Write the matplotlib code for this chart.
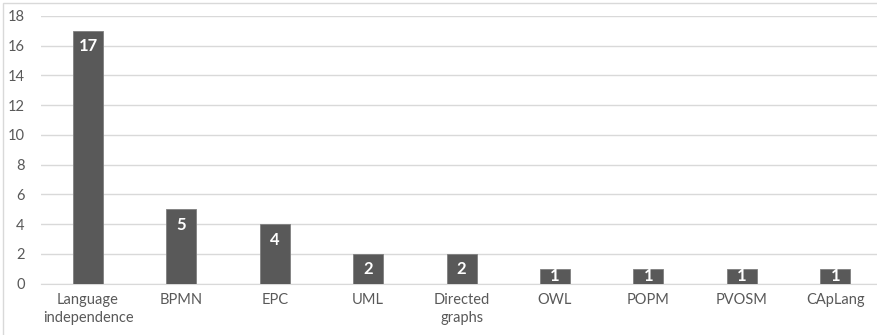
import matplotlib
matplotlib.use("Agg")
import matplotlib.pyplot as plt
from matplotlib.patches import Rectangle

categories = ["Language\nindependence", "BPMN", "EPC", "UML", "Directed\ngraphs",
              "OWL", "POPM", "PVOSM", "CApLang"]
counts = [17, 5, 4, 2, 2, 1, 1, 1, 1]
yticks = [0, 2, 4, 6, 8, 10, 12, 14, 16, 18]

W, H = 878, 335
BAR = "#595959"
GRID = "#d9d9d9"
TEXT = "#595959"

plt.rcParams["font.family"] = ["Lato", "DejaVu Sans"]

fig = plt.figure(figsize=(W / 100, H / 100), dpi=100)
# plot area in pixel coordinates (left, top, right, bottom)
left, top, right, bottom = 41.3, 15.8, 878, 283.5
ax = fig.add_axes([left / W, (H - bottom) / H, (right - left) / W, (bottom - top) / H])

x = list(range(len(categories)))
ax.bar(x, counts, width=0.32, color=BAR, edgecolor="#7f7f7f", linewidth=0.6, zorder=3)

for xi, v in zip(x, counts):
    off = min(1.05, v / 2)
    ax.text(xi, v - off, str(v), ha="center", va="center", color="white",
            fontsize=12, fontweight="bold", zorder=4)

ax.set_xlim(-0.5, (right - 88) / 93.4)
ax.set_ylim(0, 18)
ax.set_yticks(yticks)
ax.set_xticks(x)
ax.set_xticklabels(categories, linespacing=1.3)
ax.grid(axis="y", color=GRID, linewidth=1, zorder=0)
ax.set_axisbelow(True)
for s in ["left", "right", "top"]:
    ax.spines[s].set_visible(False)
ax.spines["bottom"].set_color(GRID)
ax.tick_params(axis="both", length=0, colors=TEXT, labelsize=10.5)
ax.tick_params(axis="y", pad=12)
ax.tick_params(axis="x", pad=7)

# thin chart-area border
fig.patches.append(Rectangle((3 / W, -0.1), 1.2, (H - 3) / H + 0.1, transform=fig.transFigure,
                             fill=False, edgecolor=GRID, linewidth=1))

fig.savefig("out.png", dpi=100)
